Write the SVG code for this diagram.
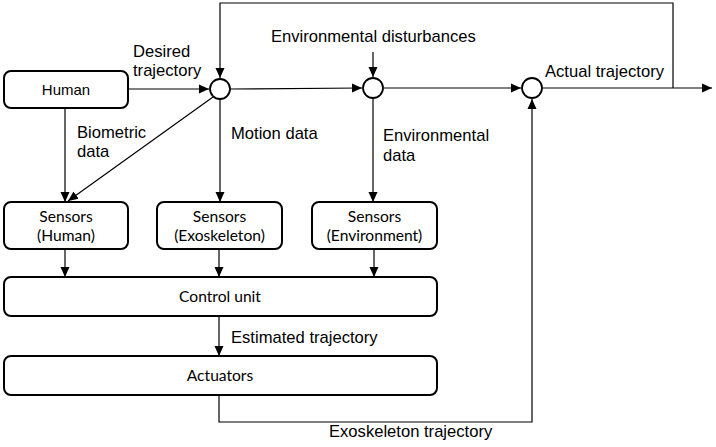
<svg xmlns="http://www.w3.org/2000/svg" width="716" height="447" viewBox="0 0 716 447">
<style>
.box{fill:#fff;stroke:#000;stroke-width:2}
.circ{fill:#fff;stroke:#000;stroke-width:1.8}
.ln{fill:none;stroke:#000;stroke-width:1.2}
.lbl{font-family:"Liberation Sans",Arial,sans-serif;font-size:16.6px;fill:#000}
.nt{font-family:Lato,"Open Sans",sans-serif;font-size:15.6px;fill:#000;text-anchor:middle}
</style>
<defs>
<marker id="ah" viewBox="0 0 10 10" refX="10" refY="5" markerWidth="10" markerHeight="10" markerUnits="userSpaceOnUse" orient="auto">
<path d="M0,0.5 L10,5 L0,9.5 z" fill="#000"/>
</marker>
</defs>
<g id="connectors">
<path class="ln" d="M128,89 L209,89" marker-end="url(#ah)"/>
<path class="ln" d="M230,89 L362,88" marker-end="url(#ah)"/>
<path class="ln" d="M384,88 L521,88" marker-end="url(#ah)"/>
<path class="ln" d="M543,88 L712,88" marker-end="url(#ah)"/>
<path class="ln" d="M673,88 L673,3 L220,3 L220,78" marker-end="url(#ah)"/>
<path class="ln" d="M373,52 L373,77" marker-end="url(#ah)"/>
<path class="ln" d="M65,108 L65,202" marker-end="url(#ah)"/>
<path class="ln" d="M213,97 L68,201" marker-end="url(#ah)"/>
<path class="ln" d="M220,99 L220,202" marker-end="url(#ah)"/>
<path class="ln" d="M373,98 L373,202" marker-end="url(#ah)"/>
<path class="ln" d="M65,249 L65,277" marker-end="url(#ah)"/>
<path class="ln" d="M219,249 L219,277" marker-end="url(#ah)"/>
<path class="ln" d="M374,249 L374,277" marker-end="url(#ah)"/>
<path class="ln" d="M219,316 L219,356" marker-end="url(#ah)"/>
<path class="ln" d="M219,395 L219,422 L532,422 L532,99" marker-end="url(#ah)"/>
</g>
<g id="labels">
<text class="lbl" x="133" y="57">Desired</text>
<text class="lbl" x="133" y="76">trajectory</text>
<text class="lbl" x="271" y="42">Environmental disturbances</text>
<text class="lbl" x="545" y="77">Actual trajectory</text>
<text class="lbl" x="77" y="138">Biometric</text>
<text class="lbl" x="77" y="157">data</text>
<text class="lbl" x="231" y="139">Motion data</text>
<text class="lbl" x="383" y="141">Environmental</text>
<text class="lbl" x="383" y="161">data</text>
<text class="lbl" x="231" y="343">Estimated trajectory</text>
<text class="lbl" x="329" y="437">Exoskeleton trajectory</text>
</g>
<g id="sum1"><circle class="circ" cx="220" cy="89" r="10"/></g>
<g id="sum2"><circle class="circ" cx="373" cy="88" r="10"/></g>
<g id="sum3"><circle class="circ" cx="532" cy="88" r="10"/></g>
<g id="human">
<rect class="box" x="4" y="71" width="124" height="37" rx="7"/>
<text class="lbl" x="66" y="95" text-anchor="middle" style="font-size:15px">Human</text>
</g>
<g id="sensors-human">
<rect class="box" x="4" y="202" width="124" height="47" rx="7"/>
<text class="nt" x="66" y="222">Sensors</text>
<text class="nt" x="66" y="241">(Human)</text>
</g>
<g id="sensors-exo">
<rect class="box" x="157" y="202" width="125" height="47" rx="7"/>
<text class="nt" x="219.5" y="222">Sensors</text>
<text class="nt" x="219.5" y="241">(Exoskeleton)</text>
</g>
<g id="sensors-env">
<rect class="box" x="312" y="202" width="125" height="47" rx="7"/>
<text class="nt" x="374.5" y="222">Sensors</text>
<text class="nt" x="374.5" y="241">(Environment)</text>
</g>
<g id="control-unit">
<rect class="box" x="4" y="277" width="433" height="39" rx="7"/>
<text class="nt" x="220" y="302">Control unit</text>
</g>
<g id="actuators">
<rect class="box" x="4" y="356" width="433" height="39" rx="7"/>
<text class="nt" x="220" y="381">Actuators</text>
</g>
</svg>
